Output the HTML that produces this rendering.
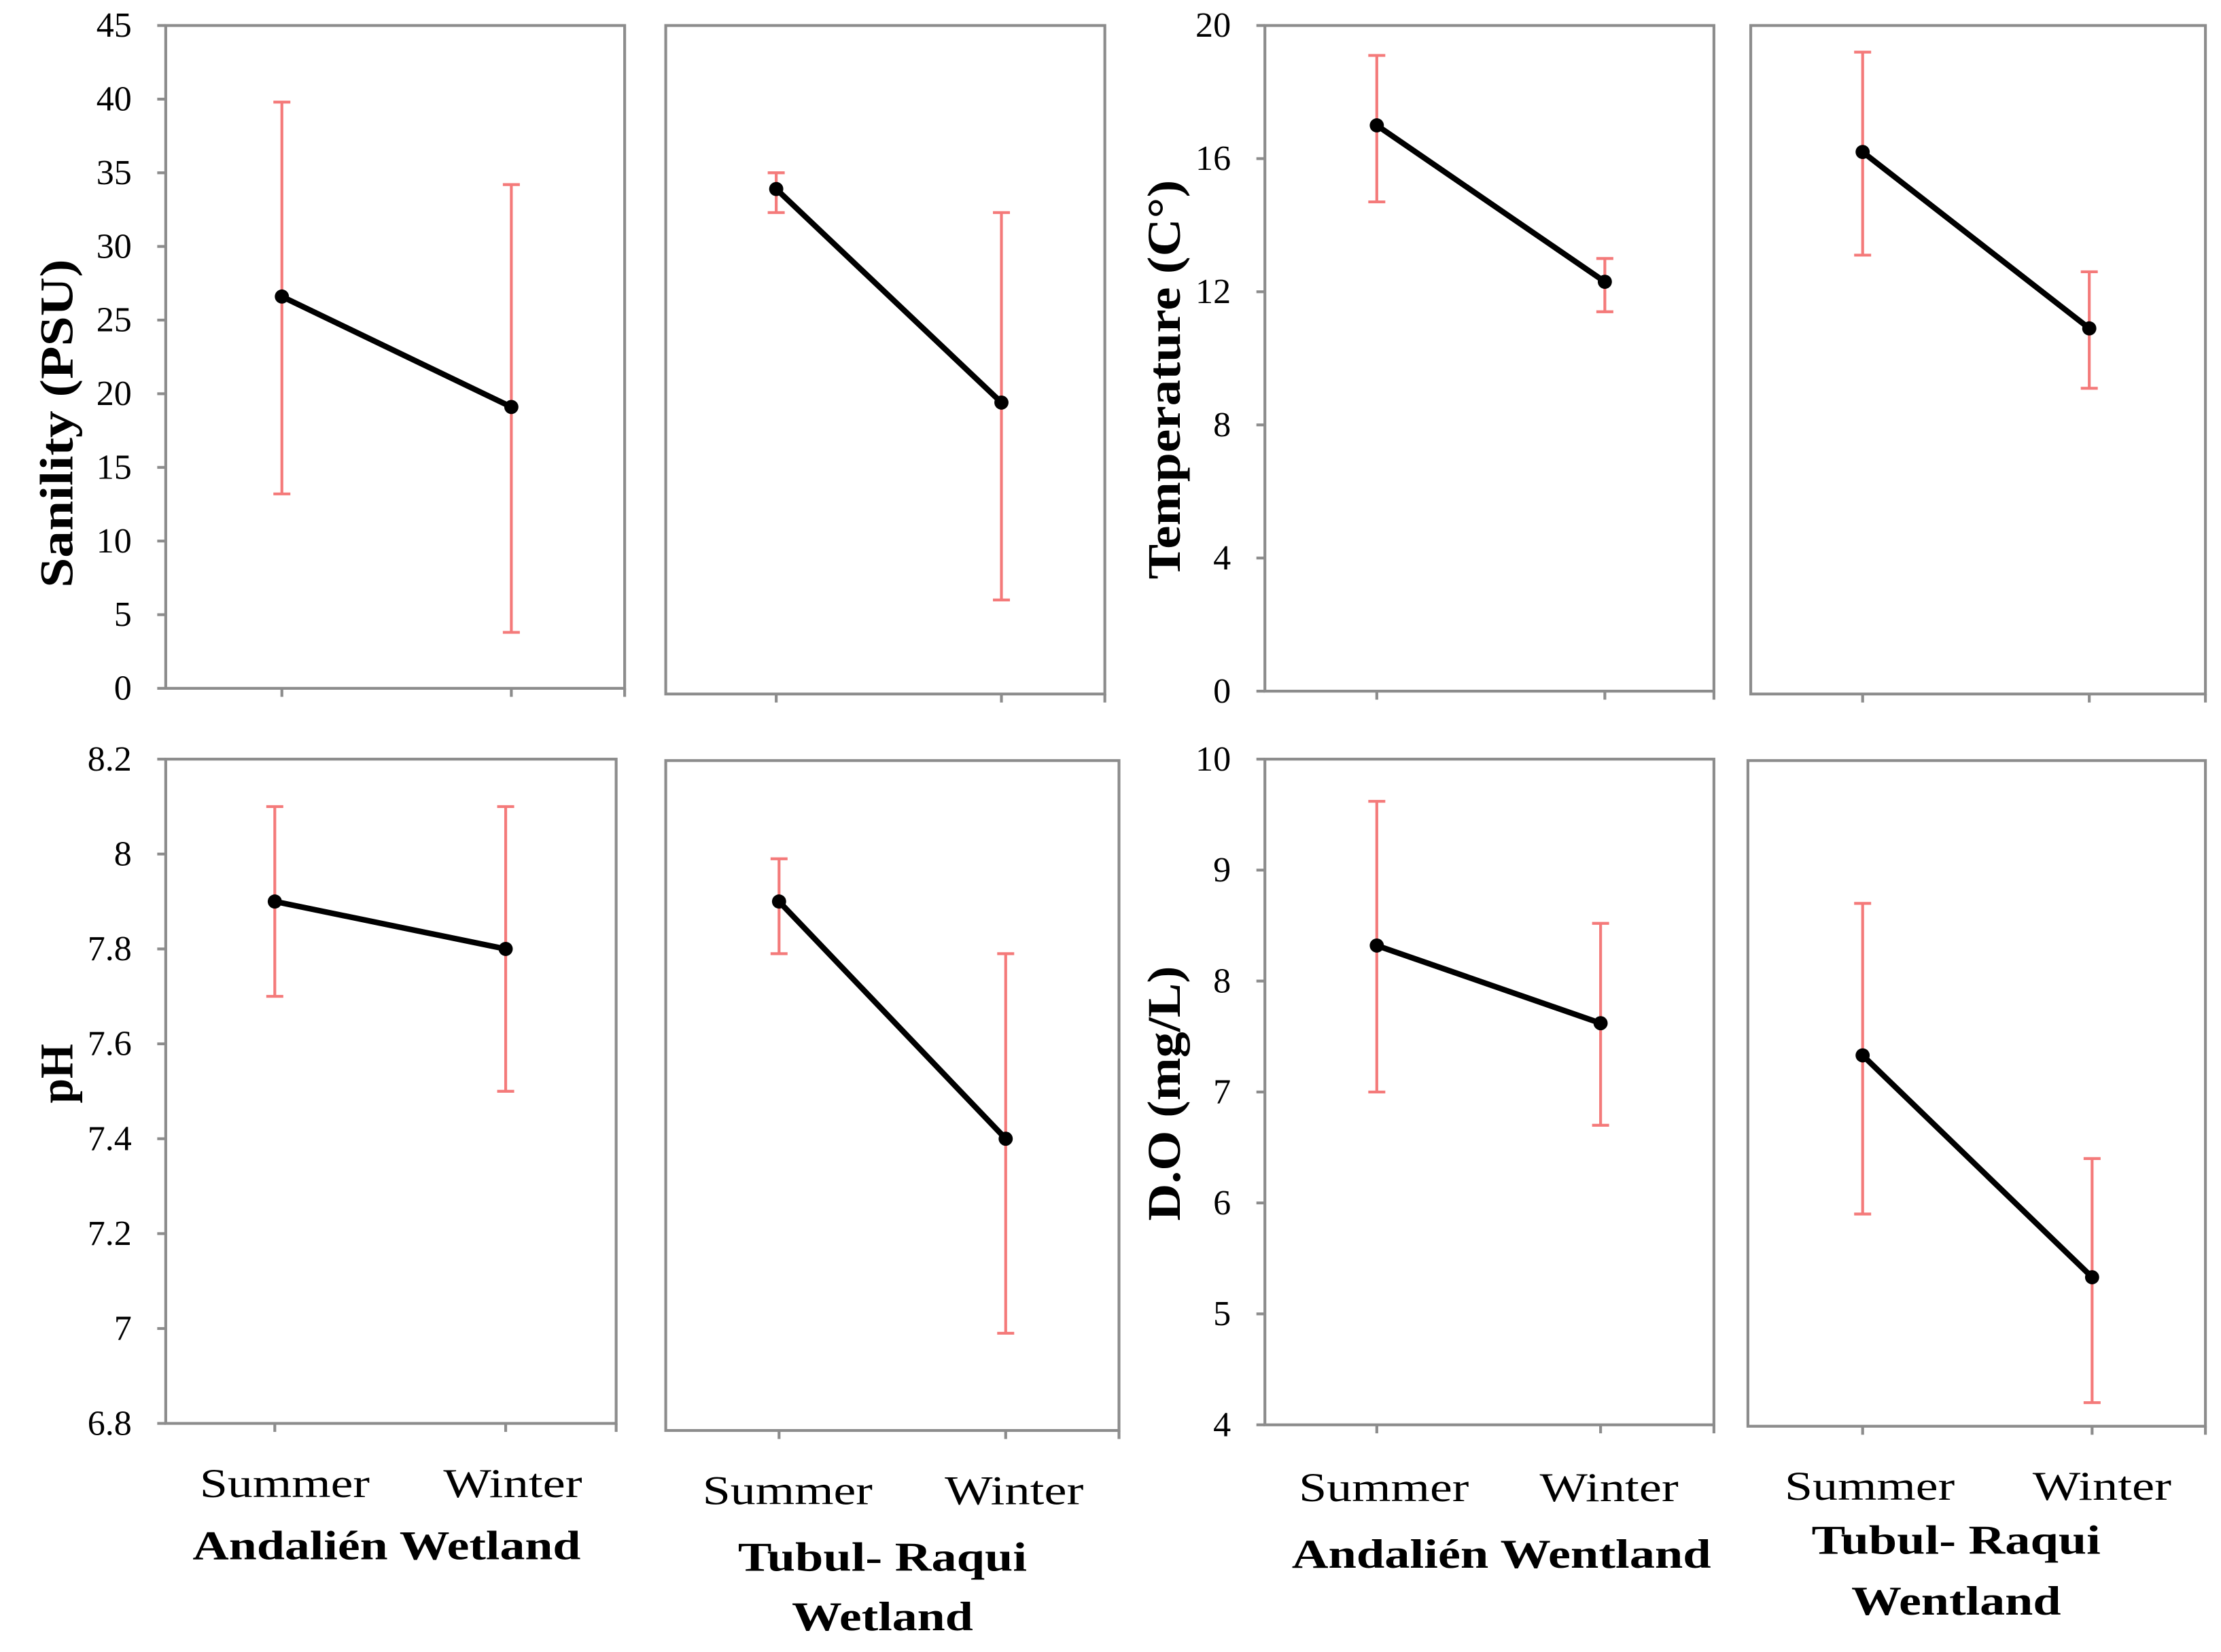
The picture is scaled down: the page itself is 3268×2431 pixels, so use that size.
<!DOCTYPE html>
<html><head><meta charset="utf-8"><style>
html,body{margin:0;padding:0;background:#fff}
svg{display:block}
text{font-family:"Liberation Serif",serif;fill:#000}
</style></head><body>
<svg id="chart" width="3268" height="2431" viewBox="0 0 1568 1166.4" preserveAspectRatio="none" xmlns="http://www.w3.org/2000/svg"></svg>
<script>
const categories = ["Summer","Winter"];
const salAndMean = [26.6, 19.1], salAndLo = [13.2, 3.8], salAndHi = [39.8, 34.2];
const salTubMean = [33.9, 19.4], salTubLo = [32.3, 6.0], salTubHi = [35.0, 32.3];
const tmpAndMean = [17.0, 12.3], tmpAndLo = [14.7, 11.4], tmpAndHi = [19.1, 13.0];
const tmpTubMean = [16.2, 10.9], tmpTubLo = [13.1, 9.1], tmpTubHi = [19.2, 12.6];
const phAndMean = [7.9, 7.8], phAndLo = [7.7, 7.5], phAndHi = [8.1, 8.1];
const phTubMean = [7.9, 7.4], phTubLo = [7.79, 6.99], phTubHi = [7.99, 7.79];
const doAndMean = [8.32, 7.62], doAndLo = [7.0, 6.7], doAndHi = [9.62, 8.52];
const doTubMean = [7.33, 5.33], doTubLo = [5.9, 4.2], doTubHi = [8.7, 6.4];
const salTicks = [0,5,10,15,20,25,30,35,40,45];
const tmpTicks = [0,4,8,12,16,20];
const phTicks = ["6.8","7","7.2","7.4","7.6","7.8","8","8.2"];
const doTicks = [4,5,6,7,8,9,10];

const svg = document.getElementById('chart');
const NS = "http://www.w3.org/2000/svg";
function mk(tag, attrs, parent){const e=document.createElementNS(NS,tag);for(const k in attrs)e.setAttribute(k,attrs[k]);(parent||svg).appendChild(e);return e;}
const AX="#8c8c8c", ERR="#f47a7a";

const panels = [
 {name:"salinity-andalien",l:117,r:441,t:18,b:486,vmin:0,vmax:45,xs:[199,361],mean:salAndMean,lo:salAndLo,hi:salAndHi,ticks:salTicks},
 {name:"salinity-tubul",l:470,r:780,t:18,b:490,vmin:0,vmax:45,y0:486,xs:[548,707],mean:salTubMean,lo:salTubLo,hi:salTubHi},
 {name:"temperature-andalien",l:893,r:1210,t:18,b:488,vmin:0,vmax:20,xs:[972,1133],mean:tmpAndMean,lo:tmpAndLo,hi:tmpAndHi,ticks:tmpTicks},
 {name:"temperature-tubul",l:1236,r:1557,t:18,b:490,vmin:0,vmax:20,y0:488,xs:[1315,1475],mean:tmpTubMean,lo:tmpTubLo,hi:tmpTubHi},
 {name:"ph-andalien",l:117,r:435,t:536,b:1005,vmin:6.8,vmax:8.2,xs:[194,357],mean:phAndMean,lo:phAndLo,hi:phAndHi,ticks:phTicks},
 {name:"ph-tubul",l:470,r:790,t:537,b:1010,vmin:6.8,vmax:8.2,y0:1005,yt:536,xs:[550,710],mean:phTubMean,lo:phTubLo,hi:phTubHi},
 {name:"do-andalien",l:893,r:1210,t:536,b:1006,vmin:4,vmax:10,xs:[972,1130],mean:doAndMean,lo:doAndLo,hi:doAndHi,ticks:doTicks},
 {name:"do-tubul",l:1234,r:1557,t:537,b:1007,vmin:4,vmax:10,y0:1006,yt:536,xs:[1315,1477],mean:doTubMean,lo:doTubLo,hi:doTubHi}
];

panels.forEach(p=>{
  const g=mk('g',{});
  
  
  const y0 = p.y0!==undefined?p.y0:p.b, yt = p.yt!==undefined?p.yt:p.t;
  const y = v => y0 - (v-p.vmin)/(p.vmax-p.vmin)*(y0-yt);
  const frame=mk('rect',{x:p.l,y:p.t,width:p.r-p.l,height:p.b-p.t,fill:"none",stroke:AX,"stroke-width":2},g);
  
  
  if(p.ticks){
    p.ticks.forEach(t=>{
      const yy=y(parseFloat(t));
      mk('line',{x1:p.l-6,x2:p.l,y1:yy,y2:yy,stroke:AX,"stroke-width":2},g);
      const tx=mk('text',{x:p.l-24,y:yy+8,"text-anchor":"end","font-size":25},g);
      tx.textContent=t;
      
      
    });
  }
  [p.xs[0],p.xs[1],p.r].forEach(xx=>mk('line',{x1:xx,x2:xx,y1:p.b,y2:p.b+6,stroke:AX,"stroke-width":2},g));
  p.mean.forEach((m,i)=>{
    const x=p.xs[i];
    const eb=mk('g',{},g);
    
    
    mk('line',{x1:x,x2:x,y1:y(p.lo[i]),y2:y(p.hi[i]),stroke:ERR,"stroke-width":2},eb);
    mk('line',{x1:x-6,x2:x+6,y1:y(p.lo[i]),y2:y(p.lo[i]),stroke:ERR,"stroke-width":2},eb);
    mk('line',{x1:x-6,x2:x+6,y1:y(p.hi[i]),y2:y(p.hi[i]),stroke:ERR,"stroke-width":2},eb);
  });
  const ln=mk('line',{x1:p.xs[0],y1:y(p.mean[0]),x2:p.xs[1],y2:y(p.mean[1]),stroke:"#000","stroke-width":4},g);
  
  
  p.mean.forEach((m,i)=>{
    const c=mk('circle',{cx:p.xs[i],cy:y(m),r:5,fill:"#000"},g);
    
    
  });
});

function label(txt,x,yy,size,bold,name,len,rot){
  const t=mk('text',{x:x,y:yy,"text-anchor":"middle","font-size":size,"font-weight":bold?"bold":"normal",textLength:len,lengthAdjust:"spacingAndGlyphs"});
  if(rot) t.setAttribute('transform','rotate(-90 '+x+' '+yy+')');
  t.textContent=txt;
  
  
}
label("Sanility (PSU)",51,299,33,true,"y-axis-title-salinity",232,true);
label("Temperature (C°)",833,268,33,true,"y-axis-title-temperature",282,true);
label("pH",51,758,33,true,"y-axis-title-ph",42,true);
label("D.O (mg/L)",833,772,33,true,"y-axis-title-do",180,true);
const xl=[[201,362,1057],[556,716,1062],[977,1136,1060],[1320,1484,1059]];
xl.forEach(a=>{label(categories[0],a[0],a[2],29,false,"x-tick-label-summer",120);label(categories[1],a[1],a[2],29,false,"x-tick-label-winter",98);});
label("Andalién Wetland",273,1101,29,true,"group-title-andalien",274);
label("Tubul- Raqui",623,1109,29,true,"group-title-tubul",204);
label("Wetland",623,1151,29,true,"group-title-tubul-line2",128);
label("Andalién Wentland",1060,1107,29,true,"group-title-andalien-do",296);
label("Tubul- Raqui",1381,1097,29,true,"group-title-tubul-do",204);
label("Wentland",1381,1140,29,true,"group-title-tubul-do-line2",148);
</script>
</body></html>
